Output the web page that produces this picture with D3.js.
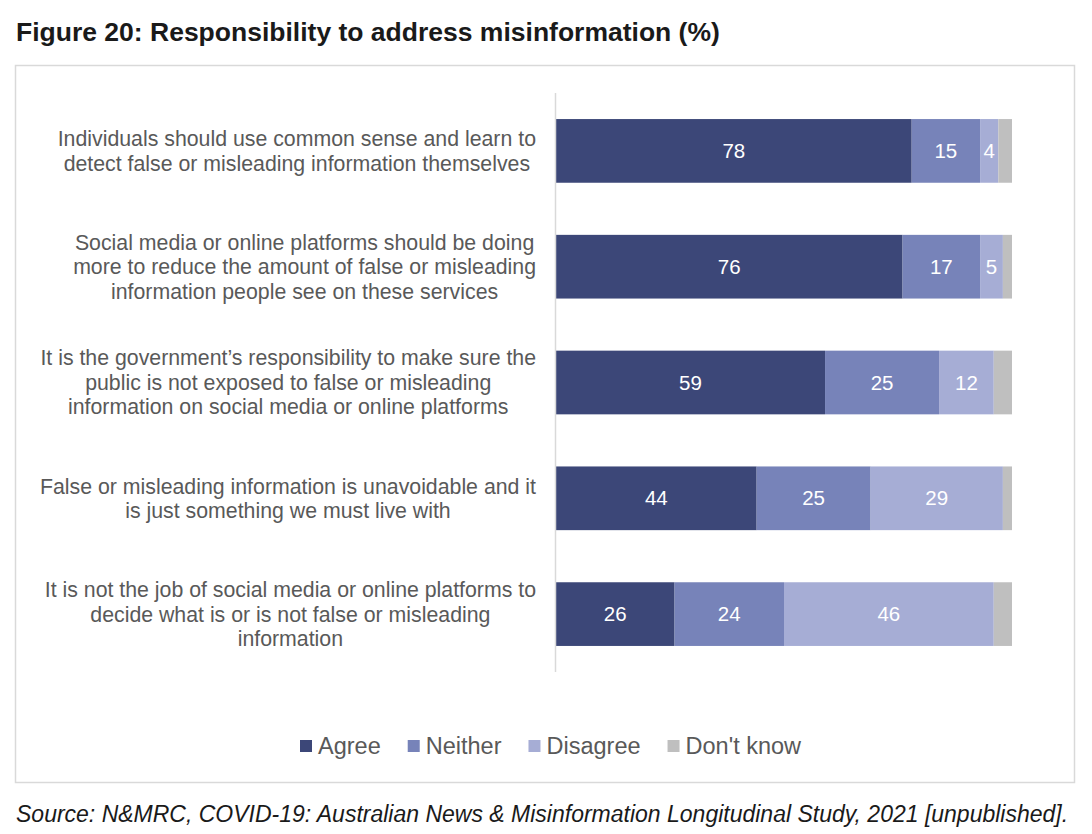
<!DOCTYPE html>
<html>
<head>
<meta charset="utf-8">
<script src="https://cdn.jsdelivr.net/npm/d3@7"></script>
<style>
  body { margin: 0; background: #fff; }
  svg { font-family: "Liberation Sans", Arial, sans-serif; }
</style>
</head>
<body>
<div id="chart"></div>
<script>
// statements, top to bottom
let statements = [
  ["Individuals should use common sense and learn to",
   "detect false or misleading information themselves"],
  ["Social media or online platforms should be doing",
   "more to reduce the amount of false or misleading",
   "information people see on these services"],
  ["It is the government\u2019s responsibility to make sure the",
   "public is not exposed to false or misleading",
   "information on social media or online platforms"],
  ["False or misleading information is unavoidable and it",
   "is just something we must live with"],
  ["It is not the job of social media or online platforms to",
   "decide what is or is not false or misleading",
   "information"]
]

let seriesNames = ["Agree", "Neither", "Disagree", "Don't know"]
let agree    = [78, 76, 59, 44, 26]
let neither  = [15, 17, 25, 25, 24]
let disagree = [4, 5, 12, 29, 46]
let dontKnow = [3, 2, 4, 2, 4]

let colors = ["#3c4778", "#7783b9", "#a6add5", "#bfbfbf"]

let width = 1092
let height = 834

// build rows for the stack
let rows = statements.map((s, i) => ({
  key: i,
  "Agree": agree[i],
  "Neither": neither[i],
  "Disagree": disagree[i],
  "Don't know": dontKnow[i]
}))

let svg = d3.select("#chart")
  .append("svg")
  .attr("width", width)
  .attr("height", height)

// title
svg.append("text")
  .attr("x", 16)
  .attr("y", 41)
  .style("font-size", "26.5px")
  .style("font-weight", "bold")
  .style("fill", "#1a1a1a")
  .text("Figure 20: Responsibility to address misinformation (%)")

// chart frame
svg.append("rect")
  .attr("x", 15.5)
  .attr("y", 65.5)
  .attr("width", 1059)
  .attr("height", 717)
  .style("fill", "none")
  .style("stroke", "#d9d9d9")
  .style("stroke-width", 1.5)

let xScale = d3.scaleLinear()
  .domain([0, 100])
  .range([556, 1012])

let yScale = d3.scaleBand()
  .domain(d3.range(statements.length))
  .range([93, 672])
  .paddingInner(0.45)
  .paddingOuter(0.225)

let stack = d3.stack().keys(seriesNames)
let stacked = stack(rows)

let groups = svg.selectAll("g.series")
  .data(stacked)
  .enter()
  .append("g")
  .attr("class", "series")
  .style("fill", (d, i) => colors[i])

groups.selectAll("rect")
  .data(d => d)
  .enter()
  .append("rect")
  .attr("x", d => xScale(d[0]))
  .attr("y", (d, i) => yScale(i))
  .attr("width", d => xScale(d[1]) - xScale(d[0]))
  .attr("height", yScale.bandwidth())

// value labels (not for don't know)
groups.filter((d, i) => i < 3)
  .selectAll("text")
  .data(d => d)
  .enter()
  .append("text")
  .attr("x", d => (xScale(d[0]) + xScale(d[1])) / 2)
  .attr("y", (d, i) => yScale(i) + yScale.bandwidth() / 2)
  .attr("dy", "0.35em")
  .attr("text-anchor", "middle")
  .style("fill", "#fff")
  .style("font-size", "20.5px")
  .text(d => d[1] - d[0])

// vertical axis line
svg.append("line")
  .attr("x1", 555.5).attr("x2", 555.5)
  .attr("y1", 93).attr("y2", 672)
  .style("stroke", "#d9d9d9")
  .style("stroke-width", 1.5)

// category labels: block right-aligned, lines centered inside it
let lineH = 24.5
statements.forEach((lines, i) => {
  let g = svg.append("g")
  let cy = yScale(i) + yScale.bandwidth() / 2
  let top = cy - (lines.length - 1) * lineH / 2
  let texts = lines.map((ln, j) => g.append("text")
    .attr("y", top + j * lineH)
    .attr("dy", "0.35em")
    .attr("text-anchor", "middle")
    .style("font-size", "21.3px")
    .style("fill", "#595959")
    .text(ln))
  let maxW = d3.max(texts, t => t.node().getComputedTextLength())
  texts.forEach(t => t.attr("x", 536 - maxW / 2))
})

// legend
let legend = svg.append("g")
let lx = 300
seriesNames.forEach((name, i) => {
  legend.append("rect")
    .attr("x", lx)
    .attr("y", 740)
    .attr("width", 12)
    .attr("height", 12)
    .style("fill", colors[i])
  let t = legend.append("text")
    .attr("x", lx + 18)
    .attr("y", 746)
    .attr("dy", "0.35em")
    .style("font-size", "23.5px")
    .style("fill", "#595959")
    .text(name)
  lx += 18 + t.node().getComputedTextLength() + 27
})

// source note
svg.append("text")
  .attr("x", 16)
  .attr("y", 822)
  .style("font-size", "23px")
  .style("font-style", "italic")
  .style("fill", "#1a1a1a")
  .text("Source: N&MRC, COVID-19: Australian News & Misinformation Longitudinal Study, 2021 [unpublished].")
</script>
</body>
</html>
